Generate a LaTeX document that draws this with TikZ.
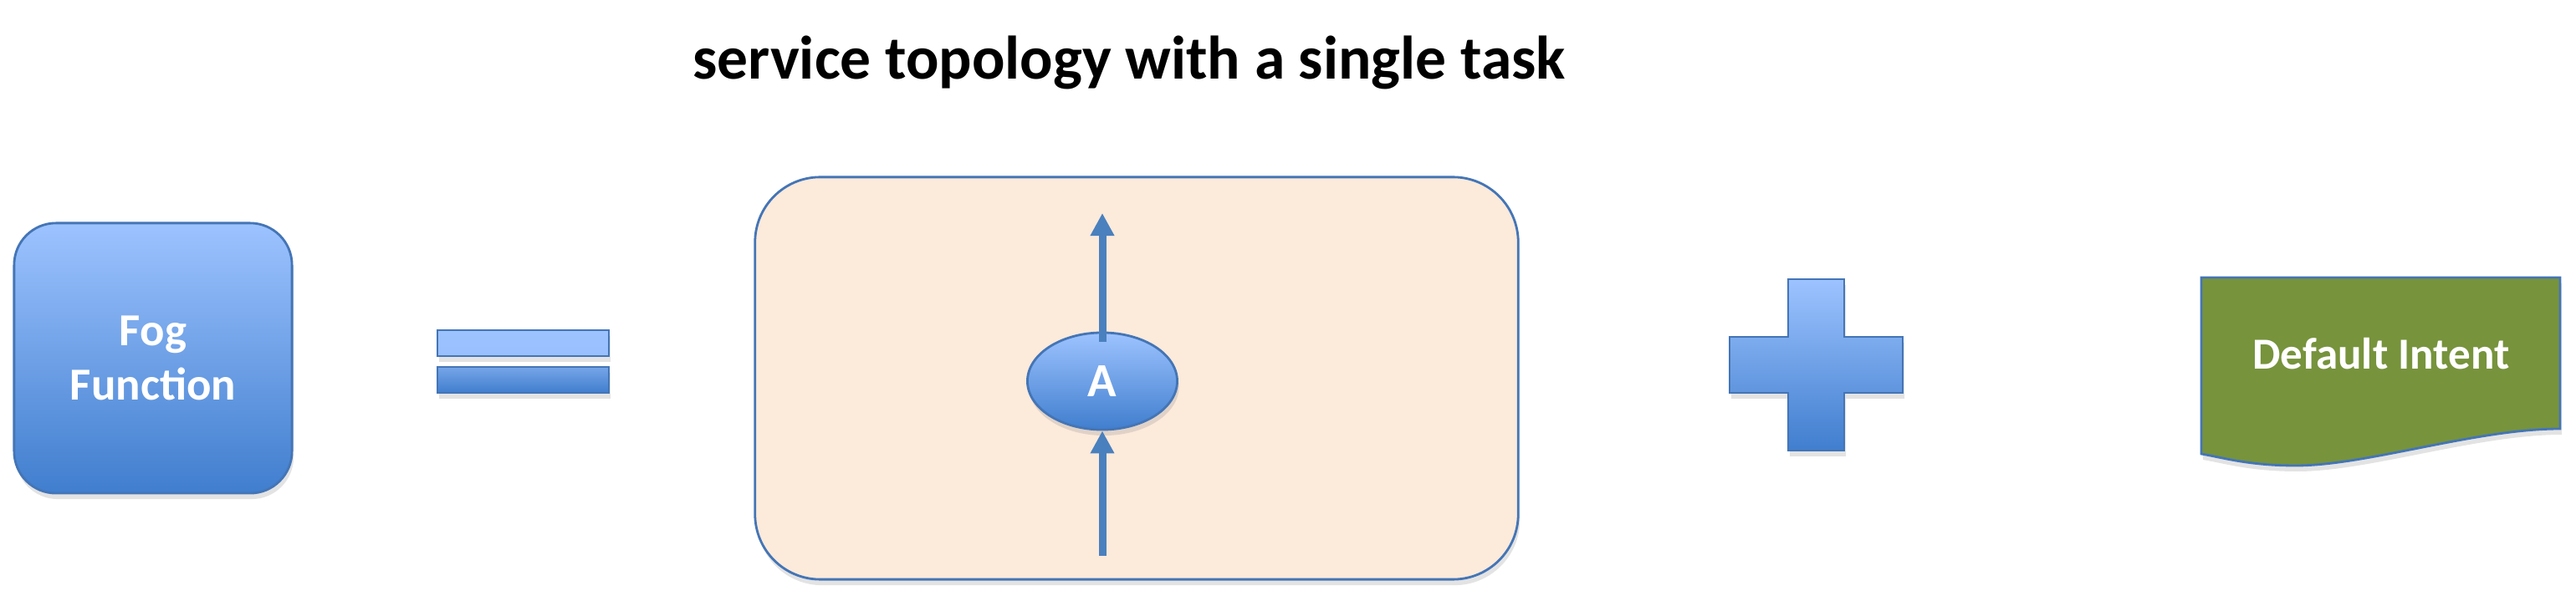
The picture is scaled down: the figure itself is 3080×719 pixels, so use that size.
\documentclass[tikz,border=0pt]{standalone}
\usepackage{fontspec}
\setmainfont{Carlito}
\usetikzlibrary{shapes.geometric, arrows.meta, shadows}

\definecolor{fogtop}{RGB}{157,195,255}
\definecolor{fogmid}{RGB}{118,165,232}
\definecolor{fogbot}{RGB}{64,126,206}
\definecolor{fogline}{RGB}{68,117,182}
\definecolor{peach}{RGB}{252,234,219}
\definecolor{arrowblue}{RGB}{74,128,190}
\definecolor{intent}{RGB}{119,147,60}

\begin{document}
\begin{tikzpicture}[
	x=0.01cm, y=-0.01cm,
	shd/.style = {drop shadow={opacity=0.22, shadow xshift=0.02cm, shadow yshift=-0.07cm}},
	f/.style = {rectangle, rounded corners=0.5cm, draw=fogline, thick, top color=fogtop, bottom color=fogbot, text=white, font=\bfseries\fontsize{15.6}{18.5}\selectfont, align=center, minimum width=3.32cm, minimum height=3.23cm, shd},
	e1/.style = {rectangle, draw=fogline, thick, top color=fogtop, bottom color=fogtop!90!fogmid, minimum width=2.05cm, minimum height=0.31cm, inner sep=0, shd},
	e2/.style = {rectangle, draw=fogline, thick, top color=fogmid, bottom color=fogbot, minimum width=2.05cm, minimum height=0.31cm, inner sep=0, shd},
	s/.style = {rectangle, rounded corners=0.78cm, draw=fogline, thick, fill=peach, minimum width=9.12cm, minimum height=4.81cm, shd},
	t/.style = {ellipse, draw=fogline, thick, top color=fogtop, bottom color=fogbot, text=white, font=\bfseries\fontsize{16.2}{19}\selectfont, minimum width=1.79cm, minimum height=1.16cm, inner sep=0, shd},
	r/.style = {-{Triangle[width=0.27cm, length=0.27cm]}, line width=0.09cm, draw=arrowblue},
	p/.style = {draw=fogline, thick, top color=fogtop, bottom color=fogbot, shd},
	d/.style = {draw=fogline, thick, fill=intent, shd},
	l/.style = {text=white, font=\bfseries\fontsize{15.1}{17.5}\selectfont}
	]
	
	\useasboundingbox (0, 0) rectangle (3080, 719);
	
	% ===== ===== ===== ===== =====
	
	% Nodes
	\node[anchor=base, font=\bfseries\fontsize{20.9}{25}\selectfont]	(title)	at	(1350, 95)	{service topology with a single task};
	
	\node[f]	(fog)	at	(183, 428.5)	{Fog\\Function};
	
	\node[e1]	(eq1)	at	(625.5, 410.5)	{};
	\node[e2]	(eq2)	at	(625.5, 454.5)	{};
	
	\node[s]	(topo)	at	(1359, 452.5)	{};
	\node[t]	(A)	at	(1318, 456)	{A};
	
	\coordinate	(Ain)	at	(1318, 665);
	\coordinate	(Aout)	at	(1318, 255);
	
	
	
	% Lines
	\draw[r]	(Ain)	to	(A.south);
	\draw[r]	([yshift=-0.12cm]A.north)	to	(Aout);
	
	
	
	
	
	% ===== ===== ===== ===== =====
	
	% Plus
	\path[p] (2138, 334) -- (2205, 334) -- (2205, 403) -- (2275, 403) -- (2275, 470) -- (2205, 470) -- (2205, 539) -- (2138, 539) -- (2138, 470) -- (2068, 470) -- (2068, 403) -- (2138, 403) -- cycle;
	
	% Default intent
	\path[d] (2632, 332) -- (3061, 332) -- (3061, 513) .. controls (2960, 513) and (2830, 557) .. (2745, 557) .. controls (2690, 557) and (2660, 548) .. (2632, 543) -- cycle;
	\node[l]	(intent)	at	(2847, 423)	{Default Intent};
	
\end{tikzpicture}
\end{document}
